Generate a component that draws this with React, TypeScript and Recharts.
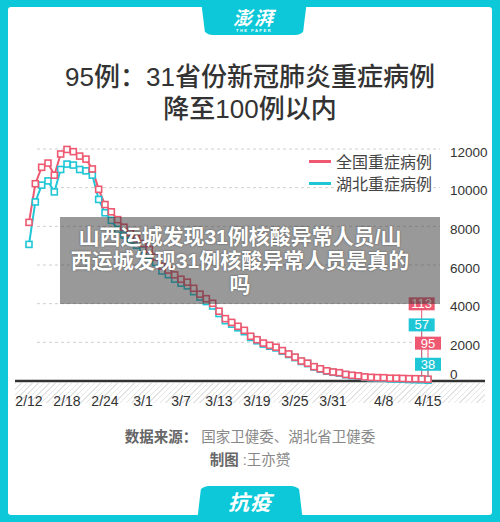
import React from 'react';
import { LineChart, Line, XAxis, YAxis, ReferenceLine } from 'recharts';

const FONT = "'Liberation Sans', 'Noto Sans CJK SC', sans-serif";
const FRAME = '#0cc8d8';
const RED = '#ee5870';
const TEAL = '#1fc6d6';

// 2/12 .. 4/15, one point per day
const dates = [
  '2/12', '2/13', '2/14', '2/15', '2/16', '2/17', '2/18', '2/19', '2/20', '2/21', '2/22', '2/23', '2/24', '2/25', '2/26', '2/27', '2/28', '2/29',
  '3/1', '3/2', '3/3', '3/4', '3/5', '3/6', '3/7', '3/8', '3/9', '3/10', '3/11', '3/12', '3/13', '3/14', '3/15', '3/16', '3/17', '3/18',
  '3/19', '3/20', '3/21', '3/22', '3/23', '3/24', '3/25', '3/26', '3/27', '3/28', '3/29', '3/30', '3/31',
  '4/1', '4/2', '4/3', '4/4', '4/5', '4/6', '4/7', '4/8', '4/9', '4/10', '4/11', '4/12', '4/13', '4/14', '4/15',
];

// 全国重症病例
const national = [
  8204, 10204, 11053, 11272, 10644, 11741, 11977, 11864, 11633, 11477, 10968, 9915, 9126, 8752, 8346, 7952, 7664, 7365,
  7110, 6806, 6416, 5952, 5737, 5489, 5264, 5111, 4794, 4492, 4257, 4020, 3610, 3226, 3032, 2830, 2622, 2314,
  2136, 1963, 1845, 1749, 1573, 1399, 1235, 1034, 921, 742, 633, 528, 466,
  429, 342, 295, 267, 211, 189, 176, 170, 144, 141, 133, 121, 119, 113, 95,
];

// 湖北重症病例
const hubei = [
  7065, 9260, 10130, 10350, 9780, 10940, 11220, 11170, 10940, 10870, 10650, 9390, 8700, 8310, 7840, 7550, 7290, 7020,
  6780, 6500, 6130, 5690, 5500, 5270, 5060, 4920, 4620, 4340, 4110, 3880, 3490, 3120, 2940, 2750, 2550, 2250,
  2080, 1910, 1800, 1710, 1540, 1370, 1210, 1010, 900, 725, 615, 512, 450,
  410, 325, 275, 245, 190, 165, 150, 140, 110, 100, 90, 75, 65, 57, 38,
];

const xTickDates = ['2/12', '2/18', '2/24', '3/1', '3/7', '3/13', '3/19', '3/25', '3/31', '4/8', '4/15'];
const yTicks = [0, 2000, 4000, 6000, 8000, 10000, 12000];
const gridValues = [2000, 4000, 6000, 8000, 10000, 12000];

const data = dates.map((d, i) => ({ i, date: d, national: national[i], hubei: hubei[i] }));
const xTicks = xTickDates.map(d => dates.indexOf(d));

// how far above its point each callout box sits (px)
const calloutOffset: Record<string, Record<number, number>> = {
  national: { 62: 75, 63: 36 },
  hubei: { 62: 55, 63: 16 },
};

const squareDot = (color: string) => (props: any) => {
  const { cx, cy, index } = props;
  if (cx == null || cy == null) return <g key={index} />;
  return <rect key={index} x={cx - 3} y={cy - 3} width={6} height={6} fill="#fff" stroke={color} strokeWidth={1.6} />;
};

const connector = (series: string, color: string) => (props: any) => {
  const { x, y, index } = props;
  const off = calloutOffset[series][index];
  if (off == null) return <g key={index} />;
  return <line key={index} x1={x} x2={x} y1={y - off} y2={y - 3} stroke={color} strokeWidth={1} />;
};

const callout = (series: string, color: string) => (props: any) => {
  const { x, y, index, value } = props;
  const off = calloutOffset[series][index];
  if (off == null) return <g key={index} />;
  const cy = y - off;
  return (
    <g key={index}>
      <rect x={x - 13} y={cy - 6.5} width={26} height={13} fill={color} />
      <text x={x} y={cy} textAnchor="middle" dominantBaseline="central" fontSize={13} fill="#fff" fontFamily={FONT}>{value}</text>
    </g>
  );
};

const XTick = (props: any) => {
  const { x, y, payload } = props;
  return (
    <text x={x} y={y + 12} textAnchor="middle" dominantBaseline="central" fontSize={14} fill="#333" fontFamily={FONT}>
      {dates[payload.value]}
    </text>
  );
};

const YTick = (props: any) => {
  const { y, payload } = props;
  return (
    <text x={450} y={y} dy={payload.value === 0 ? -7 : 3} dominantBaseline="central" fontSize={13.5} fill="#333" fontFamily={FONT}>
      {payload.value}
    </text>
  );
};

const legendItems = [
  { label: '全国重症病例', color: RED },
  { label: '湖北重症病例', color: TEAL },
];

export default function App() {
  return (
    <div style={{ position: 'fixed', left: 0, top: 0, width: 500, height: 522, background: FRAME, overflow: 'hidden', fontFamily: FONT }}>
      <div style={{ position: 'absolute', left: 8, top: 7, width: 484, height: 508, background: '#fff', borderRadius: 3 }} />

      {/* top tab with logo */}
      <div style={{ position: 'absolute', left: 201, top: 0, width: 106, height: 35, background: FRAME, borderRadius: '0 0 12px 12px', clipPath: 'polygon(0 0, 100% 0, 96% 100%, 4% 100%)' }} />
      <div style={{ position: 'absolute', left: 201, top: 8, width: 106, textAlign: 'center', color: '#fff', fontSize: 19, fontWeight: 700, fontStyle: 'italic', lineHeight: '22px', letterSpacing: 2 }}>澎湃</div>
      <div style={{ position: 'absolute', left: 201, top: 28, width: 106, textAlign: 'center', color: '#fff', fontSize: 4, fontWeight: 700, letterSpacing: 1.5 }}>THE PAPER</div>

      {/* title */}
      <div style={{ position: 'absolute', left: 0, top: 61, width: 500, textAlign: 'center', color: '#333', fontSize: 26, lineHeight: '32px', fontWeight: 500 }}>
        <div>95例：31省份新冠肺炎重症病例</div>
        <div>降至100例以内</div>
      </div>

      {/* hatched band under the x axis */}
      <div style={{ position: 'absolute', left: 15, top: 383, width: 470, height: 20, background: 'repeating-linear-gradient(135deg, #e4e4e4 0 1px, transparent 1px 4px)' }} />

      <div style={{ position: 'absolute', left: 0, top: 0 }}>
        <LineChart width={500} height={522} data={data} margin={{ top: 149, right: 0, bottom: 111, left: 15 }}>
          <XAxis
            dataKey="i"
            type="number"
            domain={[-2.21, 72]}
            ticks={xTicks}
            interval={0}
            height={30}
            tickLine={false}
            axisLine={{ stroke: '#333', strokeWidth: 2.5 }}
            tick={<XTick />}
          />
          <YAxis
            orientation="right"
            type="number"
            domain={[0, 12000]}
            ticks={yTicks}
            width={15}
            axisLine={false}
            tickLine={false}
            tick={<YTick />}
          />
          {gridValues.map(v => (
            <ReferenceLine
              key={v}
              segment={[{ x: 1.26, y: v }, { x: 64.9, y: v }]}
              stroke="#cfcfcf"
              strokeDasharray="3 3"
              ifOverflow="visible"
            />
          ))}
          <Line dataKey="hubei" stroke={TEAL} strokeWidth={2} dot={squareDot(TEAL)} activeDot={false} isAnimationActive={false} label={connector('hubei', TEAL)} />
          <Line dataKey="national" stroke={RED} strokeWidth={2} dot={squareDot(RED)} activeDot={false} isAnimationActive={false} label={connector('national', RED)} />
          <Line dataKey="national" stroke="none" dot={false} activeDot={false} isAnimationActive={false} label={callout('national', RED)} />
          <Line dataKey="hubei" stroke="none" dot={false} activeDot={false} isAnimationActive={false} label={callout('hubei', TEAL)} />
        </LineChart>
      </div>

      {/* legend */}
      <div style={{ position: 'absolute', left: 309, top: 150 }}>
        {legendItems.map(it => (
          <div key={it.label} style={{ display: 'flex', alignItems: 'center', height: 22 }}>
            <div style={{ width: 22, height: 3, background: it.color, marginRight: 5 }} />
            <span style={{ fontSize: 16, color: '#444' }}>{it.label}</span>
          </div>
        ))}
      </div>

      {/* headline overlay */}
      <div style={{ position: 'absolute', left: 60, top: 217, width: 380, height: 87, background: 'rgba(60,60,60,0.52)' }} />
      <div style={{ position: 'absolute', left: 60, top: 225, width: 360, textAlign: 'center', color: '#fff', fontSize: 21, fontWeight: 700, lineHeight: '24px', textShadow: '0 0 2px rgba(0,0,0,0.5)' }}>
        <div>山西运城发现31例核酸异常人员/山</div>
        <div>西运城发现31例核酸异常人员是真的</div>
        <div>吗</div>
      </div>

      {/* source */}
      <div style={{ position: 'absolute', left: 0, top: 426, width: 500, textAlign: 'center', fontSize: 14.5, lineHeight: '23px', color: '#888' }}>
        <div><b style={{ color: '#666' }}>数据来源：</b> 国家卫健委、湖北省卫健委</div>
        <div><b style={{ color: '#666' }}>制图</b> :王亦赟</div>
      </div>

      {/* bottom tab */}
      <div style={{ position: 'absolute', left: 197, top: 486, width: 106, height: 36, background: FRAME, borderRadius: '12px 12px 0 0', clipPath: 'polygon(4% 0, 96% 0, 100% 100%, 0 100%)' }} />
      <div style={{ position: 'absolute', left: 197, top: 490, width: 106, textAlign: 'center', color: '#fff', fontSize: 21, fontWeight: 700, fontStyle: 'italic', lineHeight: '26px', letterSpacing: 1 }}>抗疫</div>
    </div>
  );
}
